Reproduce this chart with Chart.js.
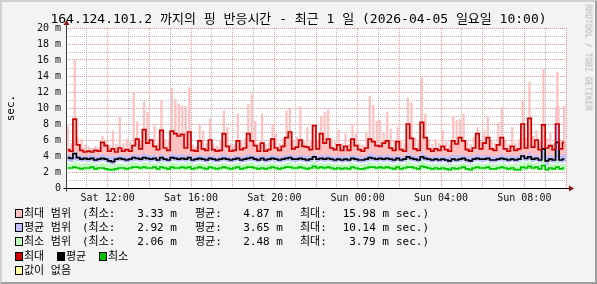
<!DOCTYPE html>
<html>
<head>
<meta charset="utf-8">
<script src="https://cdn.jsdelivr.net/npm/chart.js@4.4.1/dist/chart.umd.min.js"></script>
<style>
html, body { margin: 0; padding: 0; }
body { width: 597px; height: 284px; overflow: hidden; position: relative; }
#frame { position: absolute; left: 0; top: 0; width: 593px; height: 280px; background: #f3f3f3;
  border-top: 2px solid #d0d0d0; border-left: 2px solid #d0d0d0; border-right: 2px solid #9e9e9e; border-bottom: 2px solid #9e9e9e; }
#c { position: absolute; left: 0; top: 0; }
.t { position: absolute; font-family: "DejaVu Sans Mono", "Noto Sans CJK KR", monospace; font-size: 11px; color: #000; white-space: pre; line-height: 14px; }
.box { position: absolute; width: 6px; height: 7px; border: 1px solid #000; }
</style>
</head>
<body>
<div id="frame"></div>
<canvas id="c" width="597" height="284"></canvas>
<div class="t" style="left:0;top:11px;width:597px;text-align:center;font-size:13px;line-height:16px;">164.124.101.2 까지의 핑 반응시간 - 최근 1 일 (2026-04-05 일요일 10:00)</div>
<div class="t" style="left:-9px;top:101px;width:40px;text-align:center;transform:rotate(-90deg);">sec.</div>
<div class="t" style="left:533px;top:55px;width:110px;height:9px;font-size:8px;line-height:9px;color:#b4b4b4;transform:rotate(90deg);">RRDTOOL / TOBI OETIKER</div>
<div id="legend"></div>
<script>
// 24 h window, Sat 10:00 -> Sun 10:00, 10 minute bins
var BIN_H = 1 / 6;

var maxHi = [7.8,5.6,15.98,6.2,6.1,5.4,5.2,5.0,5.3,5.1,
  6.5,5.8,5.4,7.2,5.5,8.9,5.6,6.1,5.8,12.0,
  8.3,5.9,10.8,9.5,6.0,8.0,5.7,11.0,6.1,5.8,
  12.5,11.1,10.5,10.3,10.2,12.6,5.4,5.2,8.0,7.2,
  5.6,8.7,5.5,5.3,6.0,9.7,7.6,5.6,5.4,9.3,
  5.8,6.2,10.5,11.7,8.4,5.6,9.3,5.5,5.8,8.0,
  6.8,5.6,6.2,9.7,10.0,5.9,6.4,10.2,6.0,7.6,
  5.8,8.0,5.9,9.0,9.5,9.8,6.2,5.8,7.3,5.6,
  6.8,5.5,8.0,6.8,5.6,5.4,7.0,11.5,10.4,8.4,
  8.5,7.0,9.5,7.4,6.0,7.6,5.8,5.6,11.3,10.7,
  6.3,5.8,13.8,9.3,6.1,5.5,6.1,5.6,7.2,5.8,
  5.4,9.0,8.5,8.6,9.3,5.8,5.5,6.4,7.6,5.9,
  7.2,9.0,6.0,5.6,8.2,10.1,6.0,5.5,7.6,5.7,
  6.1,11.0,6.3,13.3,6.5,7.2,5.8,14.9,6.2,6.9,
  5.6,14.5,5.9,10.3];

var maxLine = [4.8,4.6,8.6,5.4,4.7,4.5,4.6,4.5,4.7,4.6,
  5.7,5.3,4.6,4.9,4.5,5.0,4.6,4.8,4.6,5.3,
  6.1,4.9,7.3,5.6,6.0,5.2,4.8,7.2,5.0,4.7,
  7.1,6.8,6.5,6.7,5.0,7.0,4.7,4.6,5.9,4.9,
  4.7,6.0,4.8,4.6,4.7,6.8,5.2,4.6,4.7,5.9,
  4.8,5.0,6.8,5.9,5.3,4.6,5.6,4.6,4.8,6.1,
  5.0,4.7,5.2,6.3,7.0,4.9,5.1,6.0,5.2,5.1,
  4.8,7.8,4.9,6.8,5.6,6.1,5.0,4.8,5.4,4.7,
  5.2,4.7,6.1,5.3,4.8,4.6,5.0,6.1,5.8,5.3,
  5.2,5.6,5.9,5.0,4.7,5.8,4.8,4.6,8.0,6.2,
  4.9,4.7,8.2,6.3,4.9,4.6,4.9,4.7,5.2,4.8,
  4.6,5.9,5.5,6.3,5.9,4.8,4.6,5.0,6.8,4.9,
  5.6,6.3,4.9,4.7,5.4,6.3,4.9,4.6,5.2,4.7,
  4.9,8.0,5.0,8.7,5.1,6.0,4.8,7.9,5.0,5.3,
  4.8,8.0,4.9,5.7];

var avgHi = [4.2,4.1,4.6,4.2,4.1,4.0,4.1,4.2,4.0,4.1,4.3,4.1,
  4.0,4.1,4.0,4.2,4.1,4.0,4.1,4.3,4.2,4.1,4.4,4.2,
  4.1,4.2,4.0,4.3,4.1,4.0,4.4,4.2,4.2,4.3,4.1,4.3,
  4.0,4.1,4.2,4.1,4.0,4.2,4.1,4.0,4.1,4.3,4.1,4.0,
  4.1,4.2,4.0,4.1,4.3,4.2,4.1,4.0,4.2,4.0,4.1,4.2,
  4.1,4.0,4.1,4.2,4.3,4.1,4.1,4.2,4.1,4.1,4.0,4.4,
  4.1,4.2,4.1,4.2,4.1,4.0,4.1,4.0,4.1,4.0,4.2,4.1,
  4.0,4.0,4.1,4.4,4.3,4.1,4.2,4.1,4.3,4.1,4.0,4.2,
  4.0,4.1,4.5,4.2,4.1,4.0,4.6,4.2,4.1,4.0,4.1,4.0,
  4.1,4.0,4.0,4.2,4.1,4.2,4.2,4.0,4.0,4.1,4.3,4.1,
  4.1,4.2,4.0,4.0,4.1,4.3,4.1,4.0,4.1,4.0,4.1,4.4,
  4.1,4.5,4.1,4.2,4.0,5.2,4.1,4.2,4.0,10.14,4.1,4.3];

var avgLine = [3.8,3.7,4.3,3.8,3.6,3.7,3.6,3.7,3.5,3.6,3.7,3.6,
  3.4,3.3,3.6,3.7,3.6,3.5,3.6,3.8,3.7,3.6,3.8,3.7,
  3.6,3.7,3.5,3.8,3.6,3.5,3.8,3.7,3.6,3.7,3.6,3.8,
  3.5,3.6,3.7,3.6,3.5,3.7,3.6,3.5,3.6,3.7,3.6,3.5,
  3.6,3.7,3.5,3.6,3.7,3.8,3.6,3.5,3.7,3.5,3.6,3.7,
  3.6,3.5,3.6,3.7,3.8,3.6,3.6,3.7,3.6,3.5,3.6,3.9,
  3.6,3.7,3.6,3.7,3.6,3.5,3.6,3.5,3.6,3.5,3.7,3.6,
  3.5,3.5,3.6,3.8,3.7,3.6,3.7,3.6,3.7,3.6,3.5,3.7,
  3.5,3.6,3.9,3.7,3.6,3.5,3.9,3.7,3.6,3.5,3.6,3.5,
  3.6,3.5,3.4,3.6,3.5,3.6,3.7,3.5,3.4,3.6,3.7,3.6,
  3.6,3.7,3.5,3.5,3.6,3.7,3.6,3.5,3.6,3.5,3.6,4.0,
  3.7,3.9,3.6,3.7,3.5,4.9,3.4,3.6,3.5,5.7,3.5,3.6];

var avgLo = [3.4,3.3,3.5,3.4,3.3,3.4,3.3,3.4,3.2,3.3,3.4,3.3,
  3.1,3.0,3.3,3.4,3.3,3.2,3.3,3.4,3.4,3.3,3.4,3.4,
  3.3,3.4,3.2,3.4,3.3,3.2,3.4,3.4,3.3,3.4,3.3,3.4,
  3.2,3.3,3.4,3.3,3.2,3.4,3.3,3.2,3.3,3.4,3.3,3.2,
  3.3,3.4,3.2,3.3,3.4,3.4,3.3,3.2,3.4,3.2,3.3,3.4,
  3.3,3.2,3.3,3.4,3.4,3.3,3.3,3.4,3.3,3.2,3.3,3.5,
  3.3,3.4,3.3,3.4,3.3,3.2,3.3,3.2,3.3,3.2,3.4,3.3,
  3.2,3.2,3.3,3.4,3.4,3.3,3.4,3.3,3.4,3.3,3.2,3.4,
  3.2,3.3,3.5,3.4,3.3,3.2,3.5,3.4,3.3,3.2,3.3,3.2,
  3.3,3.2,3.1,3.3,3.2,3.3,3.4,3.2,3.1,3.3,3.4,3.3,
  3.3,3.4,3.2,3.2,3.3,3.4,3.3,3.2,3.3,3.2,3.3,3.5,
  3.4,3.5,3.3,3.4,3.2,3.6,2.92,3.3,3.2,3.4,3.2,3.3];

var minHi = [3.1,3.0,3.3,3.1,3.0,3.1,3.0,3.2,2.9,3.0,3.1,3.0,
  2.9,2.8,3.0,3.1,3.0,2.9,3.1,3.2,3.1,3.0,3.2,3.1,
  3.0,3.1,2.9,3.2,3.0,2.9,3.2,3.1,3.0,3.1,3.0,3.2,
  2.9,3.0,3.1,3.0,2.9,3.1,3.0,2.9,3.0,3.1,3.0,2.9,
  3.0,3.1,2.9,3.0,3.1,3.2,3.0,2.9,3.1,2.9,3.0,3.1,
  3.0,2.9,3.0,3.1,3.2,3.0,3.0,3.1,3.0,2.9,3.0,3.3,
  3.0,3.1,3.0,3.1,3.0,2.9,3.0,2.9,3.0,2.9,3.1,3.0,
  2.9,2.9,3.0,3.2,3.1,3.0,3.1,3.0,3.1,3.0,2.9,3.1,
  2.9,3.0,3.3,3.1,3.0,2.9,3.4,3.1,3.0,2.9,3.0,2.9,
  3.0,2.9,2.8,3.0,2.9,3.0,3.1,2.9,2.8,3.0,3.1,3.0,
  3.0,3.1,2.9,2.9,3.0,3.1,3.0,2.9,3.0,2.9,3.0,3.2,
  3.1,3.3,3.0,3.1,2.9,3.79,2.8,3.0,2.9,3.5,2.9,3.0];

var minLine = [2.5,2.5,2.6,2.5,2.4,2.5,2.5,2.6,2.4,2.5,2.5,2.4,
  2.3,2.3,2.4,2.5,2.5,2.4,2.5,2.6,2.6,2.5,2.6,2.5,
  2.5,2.6,2.4,2.6,2.5,2.4,2.6,2.5,2.5,2.6,2.5,2.6,
  2.4,2.5,2.6,2.5,2.4,2.6,2.5,2.4,2.5,2.6,2.5,2.4,
  2.5,2.6,2.4,2.5,2.6,2.6,2.5,2.4,2.5,2.4,2.5,2.6,
  2.5,2.4,2.5,2.6,2.6,2.5,2.5,2.6,2.5,2.4,2.5,2.7,
  2.5,2.6,2.5,2.6,2.5,2.4,2.5,2.4,2.5,2.4,2.6,2.5,
  2.4,2.4,2.5,2.6,2.6,2.5,2.6,2.5,2.6,2.5,2.4,2.6,
  2.4,2.5,2.6,2.6,2.5,2.4,2.7,2.6,2.5,2.4,2.5,2.4,
  2.5,2.4,2.3,2.5,2.4,2.5,2.6,2.4,2.3,2.5,2.6,2.5,
  2.5,2.6,2.4,2.4,2.5,2.6,2.5,2.4,2.5,2.3,2.3,2.6,
  2.5,2.7,2.5,2.6,2.4,2.8,2.3,2.5,2.4,2.6,2.4,2.5];

var minLo = [2.3,2.3,2.4,2.3,2.2,2.3,2.2,2.3,2.2,2.2,2.3,2.2,
  2.1,2.06,2.2,2.3,2.2,2.2,2.3,2.3,2.3,2.2,2.3,2.3,
  2.2,2.3,2.2,2.3,2.2,2.2,2.3,2.3,2.2,2.3,2.2,2.3,
  2.2,2.2,2.3,2.2,2.2,2.3,2.2,2.2,2.2,2.3,2.2,2.2,
  2.2,2.3,2.2,2.2,2.3,2.3,2.2,2.2,2.3,2.2,2.2,2.3,
  2.2,2.2,2.2,2.3,2.3,2.2,2.2,2.3,2.2,2.2,2.2,2.4,
  2.2,2.3,2.2,2.3,2.2,2.2,2.2,2.2,2.2,2.2,2.3,2.2,
  2.2,2.2,2.2,2.3,2.3,2.2,2.3,2.2,2.3,2.2,2.2,2.3,
  2.2,2.2,2.3,2.3,2.2,2.2,2.4,2.3,2.2,2.2,2.2,2.2,
  2.2,2.2,2.1,2.2,2.2,2.2,2.3,2.2,2.1,2.2,2.3,2.2,
  2.2,2.3,2.2,2.2,2.2,2.3,2.2,2.2,2.2,2.1,2.1,2.3,
  2.2,2.4,2.2,2.3,2.2,2.5,2.1,2.2,2.2,2.3,2.2,2.2];

var xTickHours = [2, 6, 10, 14, 18, 22];
var xTickLabels = ['Sat 12:00', 'Sat 16:00', 'Sat 20:00', 'Sun 00:00', 'Sun 04:00', 'Sun 08:00'];
var yTickLabels = ['0', '', '2 m', '', '4 m', '', '6 m', '', '8 m', '', '10 m', '', '12 m', '', '14 m', '', '16 m', '', '18 m', '', '20 m'];

var rangeNames = ['최대 범위', '평균 범위', '최소 범위'];
var rangeColors = ['#ffc0c0', '#c0c0ff', '#c0ffc0'];
var statMin = ['3.33 m', '2.92 m', '2.06 m'];
var statAvg = ['4.87 m', '3.65 m', '2.48 m'];
var statMax = ['15.98 m', '10.14 m', '3.79 m'];
var lineNames = ['최대', '평균', '최소'];
var lineColors = ['#cc0000', '#000000', '#00c000'];

var MONO = "'DejaVu Sans Mono', monospace";
var MAJOR = 'rgba(235,40,40,0.5)';
var MINOR = 'rgba(130,130,130,0.55)';

function pts(arr) {
    return arr.map(function(v, i) { return {x: (i + 0.5) * BIN_H, y: v}; });
}

// range area between two arrays, drawn as floating bars (width = share of one bin)
function band(lo, hi, color, order, share) {
    return {
        type: 'bar',
        data: lo.map(function(v, i) { return {x: (i + 0.5) * BIN_H, y: [v, hi[i]]}; }),
        backgroundColor: color, borderWidth: 0, borderSkipped: false,
        barPercentage: share, categoryPercentage: 1, grouped: false, order: order
    };
}

function line(data, color, order) {
    return {data: pts(data), borderWidth: 1.7, borderColor: color, fill: false, stepped: 'middle', order: order};
}

var rrdFrame = {
    id: 'rrdFrame',
    beforeDraw: function(chart) {
        var a = chart.chartArea, ctx = chart.ctx;
        ctx.save();
        ctx.fillStyle = '#ffffff';
        ctx.fillRect(a.left, a.top, a.right - a.left, a.bottom - a.top);
        ctx.restore();
    },
    afterDraw: function(chart) {
        var a = chart.chartArea, ctx = chart.ctx;
        var x0 = Math.round(a.left) + 0.5, y0 = Math.round(a.bottom) + 0.5;
        ctx.save();
        ctx.lineWidth = 1;
        ctx.strokeStyle = '#3a3a3a';
        ctx.beginPath(); ctx.moveTo(x0, y0 + 3); ctx.lineTo(x0, a.top - 5); ctx.stroke();
        ctx.strokeStyle = '#000000';
        ctx.beginPath(); ctx.moveTo(x0 - 3, y0); ctx.lineTo(a.right + 3, y0); ctx.stroke();
        ctx.fillStyle = '#8b1414';
        ctx.beginPath();
        ctx.moveTo(x0 - 3, a.top - 3); ctx.lineTo(x0 + 3, a.top - 3); ctx.lineTo(x0, a.top - 8);
        ctx.closePath(); ctx.fill();
        ctx.beginPath();
        ctx.moveTo(a.right + 3, y0 - 3); ctx.lineTo(a.right + 3, y0 + 3); ctx.lineTo(a.right + 8, y0);
        ctx.closePath(); ctx.fill();
        ctx.restore();
    }
};

new Chart(document.getElementById('c'), {
    type: 'line',
    data: {
        datasets: [
            line(maxLine, lineColors[0], 0),
            line(avgLine, lineColors[1], 1),
            line(minLine, lineColors[2], 2),
            band(maxLine, maxHi, rangeColors[0], 5, 0.65),
            band(avgHi, maxLine, rangeColors[0], 6, 1),
            band(avgLo, avgHi, rangeColors[1], 7, 1),
            band(minLo, minHi, rangeColors[2], 8, 1)
        ]
    },
    options: {
        responsive: false,
        animation: false,
        devicePixelRatio: 1,
        layout: {padding: {left: 0, right: 31, top: 28, bottom: 76}},
        elements: {
            point: {radius: 0, hoverRadius: 0},
            line: {tension: 0, borderJoinStyle: 'miter'}
        },
        plugins: {legend: {display: false}, tooltip: {enabled: false}, title: {display: false}},
        scales: {
            x: {
                type: 'linear', min: 0, max: 24, offset: false,
                afterFit: function(s) { s.height = 20; },
                border: {display: false, dash: [1, 1]},
                grid: {
                    drawTicks: false, offset: false,
                    color: function(c) { return c.tick && c.tick.value % 2 === 0 ? MAJOR : MINOR; }
                },
                ticks: {
                    stepSize: 1, autoSkip: false, maxRotation: 0, padding: 4,
                    color: '#111', font: {family: MONO, size: 10},
                    callback: function(v) {
                        var k = xTickHours.indexOf(v);
                        return k < 0 ? '' : xTickLabels[k];
                    }
                }
            },
            y: {
                min: 0, max: 20,
                afterFit: function(s) { s.width = 66; },
                border: {display: false, dash: [1, 1]},
                grid: {
                    drawTicks: false,
                    color: function(c) { return c.tick && c.tick.value % 2 === 0 ? MAJOR : MINOR; }
                },
                ticks: {
                    stepSize: 1, autoSkip: false, padding: 5,
                    color: '#111', font: {family: MONO, size: 10},
                    callback: function(v) { return yTickLabels[v] || ''; }
                }
            }
        }
    },
    plugins: [rrdFrame]
});

// legend rows under the plot
var legend = document.getElementById('legend');
var rowTop = [209, 223, 237, 252, 266];

function add(cls, style, text) {
    var d = document.createElement('div');
    d.className = cls;
    d.setAttribute('style', style);
    if (text !== undefined) d.textContent = text;
    legend.appendChild(d);
}

rangeNames.forEach(function(name, i) {
    var bt = rowTop[i], tt = bt - 2.5;
    add('box', 'left:15px;top:' + bt + 'px;background:' + rangeColors[i] + ';');
    add('t', 'left:24px;top:' + tt + 'px;', name);
    add('t', 'left:82px;top:' + tt + 'px;', '(최소:');
    add('t', 'left:120px;top:' + tt + 'px;width:57px;text-align:right;', statMin[i]);
    add('t', 'left:195px;top:' + tt + 'px;', '평균:');
    add('t', 'left:226px;top:' + tt + 'px;width:57px;text-align:right;', statAvg[i]);
    add('t', 'left:300px;top:' + tt + 'px;', '최대:');
    add('t', 'left:330px;top:' + tt + 'px;width:59px;text-align:right;', statMax[i]);
    add('t', 'left:396px;top:' + tt + 'px;', 'sec.)');
});

var lineLeft = [15, 57, 99];
lineNames.forEach(function(name, i) {
    add('box', 'left:' + lineLeft[i] + 'px;top:' + rowTop[3] + 'px;background:' + lineColors[i] + ';');
    add('t', 'left:' + (lineLeft[i] + 9) + 'px;top:' + (rowTop[3] - 2.5) + 'px;', name);
});
add('box', 'left:15px;top:' + rowTop[4] + 'px;background:#ffffa0;');
add('t', 'left:24px;top:' + (rowTop[4] - 2.5) + 'px;', '값이 없음');
</script>
</body>
</html>
